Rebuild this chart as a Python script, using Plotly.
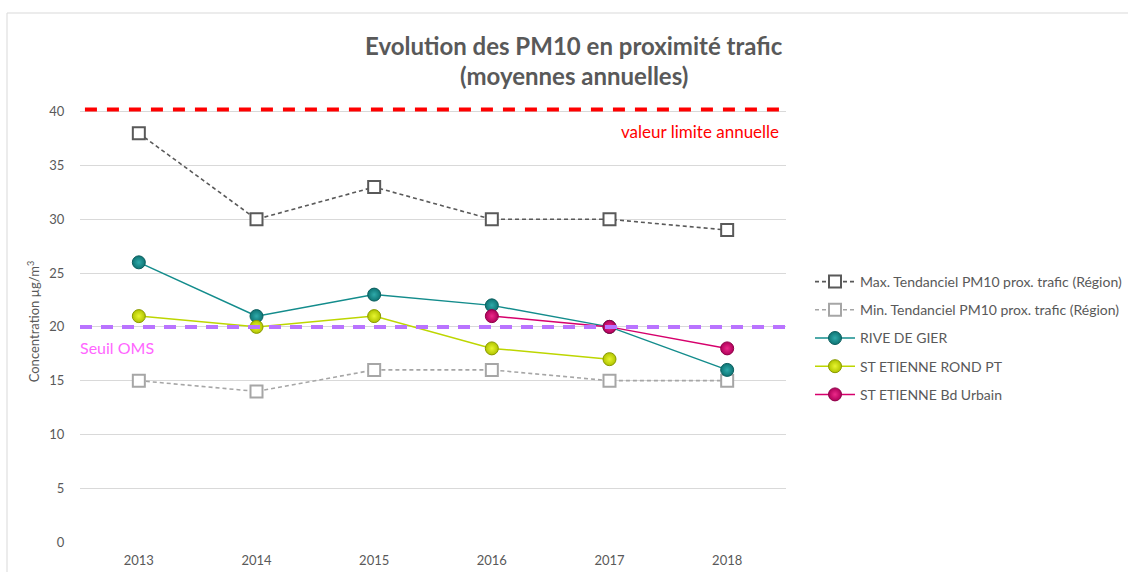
import plotly.graph_objects as go

years = ["2013", "2014", "2015", "2016", "2017", "2018"]
x_idx = [0, 1, 2, 3, 4, 5]

max_region = [38, 30, 33, 30, 30, 29]
min_region = [15, 14, 16, 16, 15, 15]
rive_de_gier = [26, 21, 23, 22, 20, 16]
st_etienne_rond_pt = [21, 20, 21, 18, 17, None]
st_etienne_bd_urbain = [None, None, None, 21, 20, 18]

valeur_limite = 40.2
seuil_oms = 20

title_lines = ["Evolution des PM10 en proximité trafic", "(moyennes annuelles)"]

FONT = "Lato"
GRAY = "#595959"

# plot area in pixels: x 80..786, y 101..542
L, R, T, B = 80, 786, 101, 542
W, H = R - L, B - T


def px(xp):
    return (xp - L) / W


def py(yp):
    return (B - yp) / H


fig = go.Figure()

# threshold lines across the whole plot width (overlay axis spanning 0..1)
fig.add_trace(go.Scatter(
    x=[0.007, 1], y=[valeur_limite, valeur_limite], xaxis="x2", mode="lines",
    line=dict(color="#FF0000", width=4, dash="12px,10px"), showlegend=False, hoverinfo="skip",
))
fig.add_trace(go.Scatter(
    x=[0, 1], y=[seuil_oms, seuil_oms], xaxis="x2", mode="lines",
    line=dict(color="#B973FF", width=4, dash="12px,9px"), showlegend=False, hoverinfo="skip",
))

fig.add_trace(go.Scatter(
    x=x_idx, y=max_region, name="Max. Tendanciel PM10 prox. trafic (Région)",
    mode="lines+markers", legendgroup="g1",
    line=dict(color="#595959", width=1.6, dash="4px,3px"),
    marker=dict(symbol="square", size=12, color="white", line=dict(color="#595959", width=2)),
))
fig.add_trace(go.Scatter(
    x=x_idx, y=min_region, name="Min. Tendanciel PM10 prox. trafic (Région)",
    mode="lines+markers", legendgroup="g2",
    line=dict(color="#A6A6A6", width=1.6, dash="4px,3px"),
    marker=dict(symbol="square", size=12, color="white", line=dict(color="#A6A6A6", width=2)),
))
fig.add_trace(go.Scatter(
    x=x_idx, y=rive_de_gier, name="RIVE DE GIER",
    mode="lines+markers", legendgroup="g3",
    line=dict(color="#138C8C", width=1.5),
    marker=dict(symbol="circle", size=13, color="#0E7474",
                gradient=dict(type="radial", color="#2FAAAA"),
                line=dict(color="#0B5E5E", width=1)),
))
fig.add_trace(go.Scatter(
    x=x_idx, y=st_etienne_rond_pt, name="ST ETIENNE ROND PT",
    mode="lines+markers", legendgroup="g4",
    line=dict(color="#BDD600", width=1.5),
    marker=dict(symbol="circle", size=13, color="#B0C400",
                gradient=dict(type="radial", color="#E8F530"),
                line=dict(color="#8A9A00", width=1)),
))
fig.add_trace(go.Scatter(
    x=x_idx, y=st_etienne_bd_urbain, name="ST ETIENNE Bd Urbain",
    mode="lines+markers", legendgroup="g5",
    line=dict(color="#D6006C", width=1.5),
    marker=dict(symbol="circle", size=13, color="#B0005A",
                gradient=dict(type="radial", color="#EC2A8A"),
                line=dict(color="#8F0048", width=1)),
))

shapes = [
    # chart frame
    dict(type="line", xref="paper", yref="paper", x0=px(7), x1=px(7), y0=py(580), y1=py(13),
         line=dict(color="#D9D9D9", width=1)),
    dict(type="line", xref="paper", yref="paper", x0=px(7), x1=px(1130), y0=py(13), y1=py(13),
         line=dict(color="#D9D9D9", width=1)),
]

annotations = [
    dict(text="<b>%s</b>" % title_lines[0], xref="paper", yref="paper",
         x=px(574), y=py(45), xanchor="center", yanchor="middle",
         showarrow=False, font=dict(family=FONT, size=24, color=GRAY)),
    dict(text="<b>%s</b>" % title_lines[1], xref="paper", yref="paper",
         x=px(574), y=py(75), xanchor="center", yanchor="middle",
         showarrow=False, font=dict(family=FONT, size=24, color=GRAY)),
    dict(text="valeur limite annuelle", xref="paper", yref="paper",
         x=px(781), y=py(131), xanchor="right", yanchor="middle",
         showarrow=False, font=dict(family=FONT, size=17, color="#FF0000")),
    dict(text="Seuil OMS", xref="paper", yref="paper",
         x=px(78), y=py(347), xanchor="left", yanchor="middle",
         showarrow=False, font=dict(family=FONT, size=16, color="#FF66FF")),
]

fig.update_layout(
    width=1128, height=572,
    margin=dict(l=L, r=1128 - R, t=T, b=572 - B, autoexpand=False),
    paper_bgcolor="white", plot_bgcolor="white",
    font=dict(family=FONT, size=12, color=GRAY),
    showlegend=True,
    legend=dict(x=px(810), xanchor="left", y=py(266), yanchor="top",
                font=dict(family=FONT, size=14, color=GRAY), bgcolor="rgba(0,0,0,0)",
                tracegroupgap=7, itemwidth=40),
    shapes=shapes,
    annotations=annotations,
    xaxis2=dict(overlaying="x", range=[0, 1], visible=False, fixedrange=True),
)

fig.update_layout(
    xaxis=dict(
        range=[-0.5, 5.5], tickvals=x_idx, ticktext=years,
        showgrid=False, zeroline=False, showline=False, automargin=False,
        ticks="outside", ticklen=6, tickcolor="rgba(0,0,0,0)",
        tickfont=dict(family=FONT, size=13, color=GRAY),
    ),
    yaxis=dict(
        range=[0, 41], tickvals=[0, 5, 10, 15, 20, 25, 30, 35, 40],
        showgrid=True, gridcolor="#D9D9D9", gridwidth=1,
        zeroline=False, showline=False, automargin=False,
        ticks="outside", ticklen=12, tickcolor="rgba(0,0,0,0)",
        tickfont=dict(family=FONT, size=13, color=GRAY),
        title=dict(text="Concentration µg/m<sup>3</sup>", standoff=6,
                   font=dict(family=FONT, size=13, color=GRAY)),
    ),
)

fig.write_html("out.html", config={"displayModeBar": False},
               post_script="document.body.style.margin='0';document.body.style.overflow='hidden';")
